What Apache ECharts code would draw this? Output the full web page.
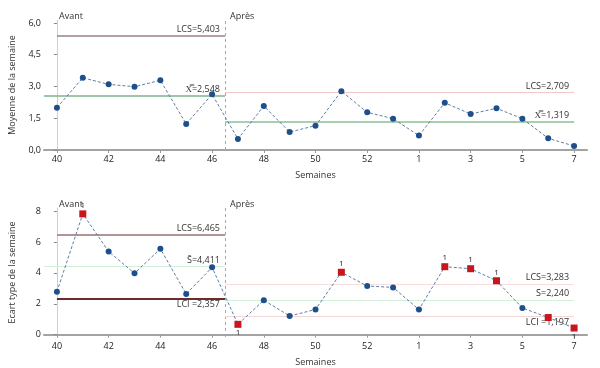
<!DOCTYPE html>
<html><head><meta charset="utf-8">
<script src="https://cdn.jsdelivr.net/npm/echarts@6/dist/echarts.min.js"></script>
<style>html,body{margin:0;padding:0;background:#fff}#c{width:600px;height:368px}</style>
</head><body><div id="c"></div>
<script>
// ---- data ----
const weeks = ['40','41','42','43','44','45','46','47','48','49','50','51','52','53','1','2','3','4','5','6','7'];
const means = [2.00,3.41,3.10,2.99,3.29,1.23,2.63, 0.52,2.08,0.85,1.15,2.78,1.78,1.48,0.68,2.23,1.70,1.97,1.48,0.55,0.19];
const stdevs = [2.78,7.82,5.38,3.97,5.56,2.63,4.36, 0.67,2.23,1.21,1.63,4.04,3.15,3.06,1.63,4.40,4.27,3.49,1.73,1.11,0.43];
const stageNames = ['Avant','Après'];
const stageStart = [0, 7];
const meanUCL = [5.403, 2.709];
const meanCL  = [2.548, 1.319];
const sdUCL = [6.465, 3.283];
const sdCL  = [4.411, 2.240];
const sdLCL = [2.357, 1.197];
const meanTicks = [0, 1.5, 3, 4.5, 6];
const sdTicks = [0, 2, 4, 6, 8];
const xTickIdx = [0,2,4,6,8,10,12,14,16,18,20];
const sdFlags = {1:'top',7:'bottom',11:'top',15:'top',16:'top',17:'top',19:'none',20:'bottom'};

// ---- helpers ----
const fmt = v => v.toFixed(3).replace('.', ',');
const last = weeks.length - 1;
const split = stageStart[1] - 0.5;
const FONT = 'Open Sans';
const txt = {fontFamily: FONT, fontSize: 9, color: '#333'};

function seg(x0, x1, y, color, width, labelText, pos) {
  return [{coord:[x0,y], lineStyle:{color, width, type:'solid'},
           label:{show: !!labelText, formatter: labelText || '', position: pos || 'insideEndTop',
                  distance:[5,2], ...txt}},
          {coord:[x1,y]}];
}

function xAxisBase(grid) {
  return {type:'value', gridIndex:grid, min:-0.5, max:last+0.5,
    name:'Semaines', nameLocation:'middle', nameGap:21, nameTextStyle:{...txt},
    axisLine:{show:true, lineStyle:{color:'#b5b5b5', width:1}},
    axisTick:{show:true, customValues:xTickIdx, length:3, lineStyle:{color:'#999'}},
    axisLabel:{customValues:xTickIdx, formatter:v => weeks[Math.round(v)], margin:5, ...txt, color:'#222'},
    splitLine:{show:false}};
}
function xAxisTop(grid) {
  return {type:'value', gridIndex:grid, position:'top', min:-0.5, max:last+0.5,
    axisLine:{show:true, lineStyle:{color:'#a3a3a3', width:2}},
    axisTick:{show:false}, axisLabel:{show:false}, splitLine:{show:false}};
}
function yAxisBase(grid, min, max, ticks, name, dec) {
  return {type:'value', gridIndex:grid, min, max,
    name, nameLocation:'middle', nameGap:27, nameTextStyle:{...txt, fontSize:9},
    axisLine:{show:false},
    axisTick:{show:true, customValues:ticks, length:3, lineStyle:{color:'#888'}},
    axisLabel:{customValues:ticks, formatter:v => dec ? v.toFixed(1).replace('.', ',') : String(v), margin:3, ...txt, color:'#222'},
    splitLine:{show:false}};
}
function yAxisRight(grid, min, max) {
  return {type:'value', gridIndex:grid, position:'right', min, max,
    axisLine:{show:true, lineStyle:{color:'#cfcfcf', width:1}},
    axisTick:{show:false}, axisLabel:{show:false}, splitLine:{show:false}};
}

const BLUE = '#1d4f8c', RED = '#c8161d', LINE = '#5a7fa6';

const meanData = means.map((v,i) => [i, v]);
const sdData = stdevs.map((v,i) => {
  const f = sdFlags[i];
  if (!f) return [i, v];
  return {value:[i, v], symbol:'rect', symbolSize:7, itemStyle:{color:RED},
    label:{show: f !== 'none', position: f === 'none' ? 'top' : f, distance:1, formatter:'1', ...txt, fontSize:8, color:'#222'}};
});

const divider = {symbol:'none', silent:true, xAxis:split,
  lineStyle:{color:'#a8a8a8', type:[3,3], width:1}, label:{show:false}};

const meanLines = [
  divider,
  seg(stageStart[0], split, meanUCL[0], '#9a8080', 1.5, 'LCS='+fmt(meanUCL[0])),
  seg(-0.5, split, meanCL[0], '#7fb38c', 1.5, 'X\u033F='+fmt(meanCL[0])),
  seg(split, last, meanUCL[1], '#f2c6ca', 1, 'LCS='+fmt(meanUCL[1])),
  seg(split, last, meanCL[1], '#8cbf9a', 1.5, 'X\u033F='+fmt(meanCL[1]))
];
const sdLines = [
  divider,
  seg(stageStart[0], split, sdUCL[0], '#b39494', 2, 'LCS='+fmt(sdUCL[0])),
  seg(-0.5, split, sdCL[0], '#d3eed9', 1, 'S\u0304='+fmt(sdCL[0])),
  seg(stageStart[0], split, sdLCL[0], '#6e2b2b', 2, 'LCI ='+fmt(sdLCL[0]), 'insideEndBottom'),
  seg(split, last, sdUCL[1], '#f6dede', 1, 'LCS='+fmt(sdUCL[1])),
  seg(split, last, sdCL[1], '#d2f0d9', 1, 'S\u0304='+fmt(sdCL[1])),
  seg(split, last, sdLCL[1], '#f3d6d6', 1, 'LCI ='+fmt(sdLCL[1]), 'insideEndBottom')
];

const chart = echarts.init(document.getElementById('c'), null, {renderer:'canvas'});
chart.setOption({
  animation:false,
  backgroundColor:'#fff',
  title:[
    {text:stageNames[0], left:54, top:7, textStyle:{...txt, fontWeight:'normal'}},
    {text:stageNames[1], left:225, top:7, textStyle:{...txt, fontWeight:'normal'}},
    {text:stageNames[0], left:54, top:195, textStyle:{...txt, fontWeight:'normal'}},
    {text:stageNames[1], left:225, top:195, textStyle:{...txt, fontWeight:'normal'}}
  ],
  grid:[
    {left:40, right:13, top:20, height:130},
    {left:40, right:13, top:208, height:129}
  ],
  xAxis:[xAxisBase(0), xAxisBase(1), xAxisTop(0), xAxisTop(1)],
  yAxis:[
    yAxisBase(0, 0, 6.14, meanTicks, 'Moyenne de la semaine', true),
    yAxisBase(1, -0.15, 8.2, sdTicks, 'Ecart type de la semaine', false),
    yAxisRight(0, 0, 6.14), yAxisRight(1, -0.15, 8.2)
  ],
  series:[
    {type:'line', xAxisIndex:0, yAxisIndex:0, data:meanData, symbol:'circle', symbolSize:6,
     itemStyle:{color:BLUE}, lineStyle:{color:LINE, width:1, type:[3,2]},
     markLine:{symbol:'none', silent:true, data:meanLines}, z:5},
    {type:'line', xAxisIndex:1, yAxisIndex:1, data:sdData, symbol:'circle', symbolSize:6,
     itemStyle:{color:BLUE}, lineStyle:{color:LINE, width:1, type:[3,2]},
     markLine:{symbol:'none', silent:true, data:sdLines}, z:5}
  ]
});
</script>
</body></html>
